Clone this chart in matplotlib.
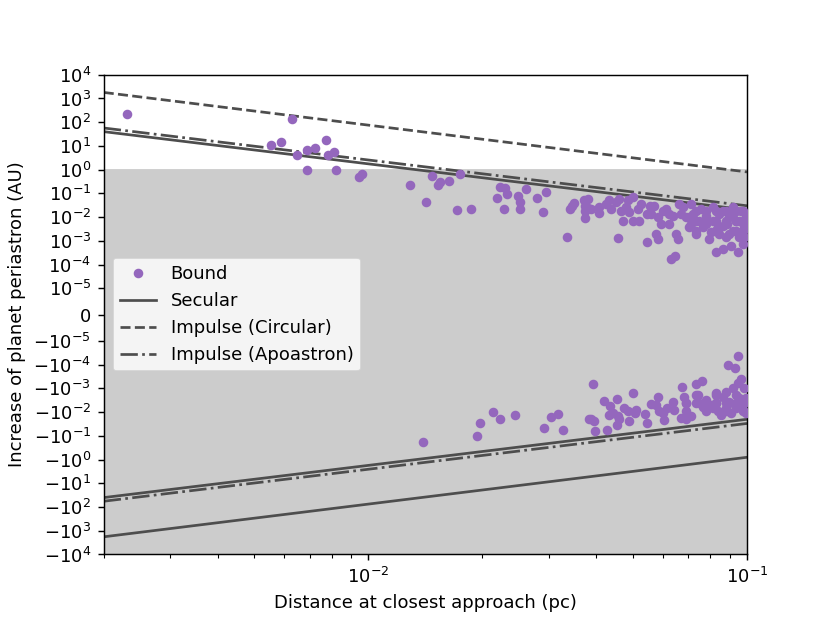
import numpy as np
import matplotlib
matplotlib.use('Agg')
import matplotlib.pyplot as plt
from matplotlib.ticker import NullLocator

# Bound encounters with a periastron increase (log10 of distance in pc, log10 of increase in AU)
pos_log_dist = [-2.637, -2.202, -2.257, -2.232, -2.188, -2.163, -2.142, -2.112, -2.107, -2.091, -2.161, -2.085, -2.026, -2.016,
                -1.891, -1.833, -1.817, -1.810, -1.788, -1.758, -1.847, -1.767, -1.729, -1.653, -1.640, -1.634, -1.659, -1.606,
                -1.600, -1.585, -1.641, -1.600, -1.555, -1.531, -1.540, -1.468, -1.462, -1.458, -1.431, -1.429, -1.429, -1.421,
                -1.429, -1.476,
                -1.421, -1.413, -1.391, -1.391, -1.364, -1.360, -1.346, -1.338, -1.320, -1.311,
                -1.289, -1.285, -1.327, -1.342, -1.302, -1.263, -1.263, -1.245, -1.236, -1.241,
                -1.236, -1.227, -1.223, -1.205, -1.196, -1.188, -1.183, -1.201, -1.190, -1.179,
                -1.170, -1.161, -1.152, -1.143, -1.126, -1.117, -1.108, -1.095, -1.091, -1.082,
                -1.073, -1.064, -1.064, -1.055, -1.047, -1.042, -1.038, -1.029, -1.024, -1.020,
                -1.011, -1.007, -1.003, -1.047, -1.073, -1.108, -1.135, -1.152, -1.205, -1.038, -1.011,
                -1.122, -1.090, -1.064, -1.037, -1.016, -1.003, -1.053, -1.079, -1.021, -1.100, -1.008, -1.148, -1.256, -1.313,
                -1.135, -1.108, -1.082, -1.055, -1.029, -1.010, -1.135, -1.108, -1.082, -1.055, -1.029, -1.010,
                -1.135, -1.082, -1.029, -1.373, -1.333, -1.280, -1.254, -1.214, -1.174, -1.148, -1.301]
pos_log_incr = [2.35, 2.14, 1.02, 1.16, 0.60, 0.83, 0.90, 1.25, 0.62, 0.73, 0.00, 0.00, -0.32, -0.18,
                -0.64, -0.26, -0.65, -0.52, -0.49, -0.19, -1.35, -1.70, -1.66, -0.75, -0.77, -1.04, -1.19, -1.13,
                -1.38, -0.83, -1.65, -1.67, -1.19, -0.93, -1.79, -1.65, -1.52, -1.41, -1.30, -1.52, -1.73, -1.63,
                -2.03, -2.83,
                -1.24, -1.66, -1.56, -1.84, -1.28, -1.66, -1.38, -1.24, -1.59, -1.80,
                -1.66, -2.15, -2.15, -2.88, -2.15, -3.06, -1.87, -1.52, -2.01, -2.71,
                -2.92, -2.29, -1.73, -2.29, -1.94, -2.71, -2.92, -3.76, -3.62, -1.45,
                -1.59, -2.01, -2.43, -1.87, -2.15, -2.43, -1.94, -2.64, -2.15, -3.48,
                -1.87, -2.36, -3.34, -2.85, -2.01, -3.20, -2.57, -2.15, -3.48, -2.85,
                -3.13, -2.36, -2.01, -2.71, -2.71, -2.29, -2.71, -2.01, -1.87, -1.87, -2.57,
                -1.66, -1.56, -1.73, -1.56, -1.73, -2.29, -2.29, -2.50, -2.16, -2.92, -2.83, -1.45, -1.52, -1.27,
                -1.74, -1.74, -1.74, -1.74, -1.74, -1.74, -2.16, -2.16, -2.16, -2.16, -2.16, -2.16,
                -2.58, -2.58, -2.58, -1.45, -1.74, -1.45, -1.87, -1.66, -1.87, -2.29, -1.16]

# Bound encounters with a periastron decrease (log10 of |increase|)
neg_log_dist = [-1.857, -1.713, -1.706, -1.671, -1.653, -1.612, -1.535, -1.517, -1.499, -1.487,
                -1.408, -1.417, -1.405, -1.401, -1.370, -1.377, -1.362, -1.344, -1.302, -1.364,
                -1.355, -1.342, -1.338, -1.344, -1.324, -1.315, -1.311, -1.295, -1.294, -1.270,
                -1.265, -1.254, -1.241, -1.235, -1.232, -1.223, -1.219, -1.210, -1.196, -1.192,
                -1.173, -1.166, -1.161, -1.174, -1.161, -1.148, -1.135, -1.119, -1.130, -1.126,
                -1.108, -1.095, -1.082, -1.077, -1.069, -1.064, -1.055, -1.047, -1.038, -1.033,
                -1.024, -1.020, -1.016, -1.011, -1.007, -1.007, -1.049, -1.033, -1.024, -1.117,
                -1.091, -1.055, -1.029, -1.413, -1.020, -1.002, -1.002, -1.042, -1.082,
                -1.161, -1.135, -1.108, -1.082, -1.055, -1.029, -1.010,
                -1.161, -1.108, -1.055, -1.010, -1.135, -1.082, -1.029]
neg_log_incr = [-0.74, -0.99, -1.55, -2.01, -1.73, -1.86, -1.35, -1.80, -1.94, -1.25,
                -3.17, -1.71, -1.62, -1.21, -1.23, -2.47, -2.26, -2.57, -2.79, -1.88,
                -1.95, -1.82, -1.70, -1.46, -2.16, -2.03, -1.63, -1.98, -2.09, -1.91,
                -1.53, -2.33, -2.30, -2.65, -2.03, -1.95, -1.67, -2.16, -2.44, -2.09,
                -3.07, -2.65, -2.37, -1.74, -1.70, -1.82, -3.18, -3.32, -2.72, -2.37,
                -2.51, -2.30, -2.79, -2.03, -1.88, -2.65, -2.86, -2.44, -3.00, -2.30,
                -3.21, -2.58, -3.38, -2.09, -3.00, -2.37, -3.98, -3.88, -4.37, -2.23,
                -2.16, -2.16, -2.16, -1.70, -2.37, -2.58, -1.95, -1.95, -2.37,
                -2.37, -2.37, -2.37, -2.37, -2.37, -2.37, -2.37,
                -2.04, -2.04, -2.04, -2.04, -2.71, -2.71, -2.71]

# Analytic estimates at the ends of the distance range (AU)
line_dist = [0.002, 0.1]
secular = [40.0, 0.02]
impulse_circ = [1800.0, 0.8]
impulse_apo = [57.0, 0.03]

fig, ax = plt.subplots(figsize=(830 / 130, 623 / 130), dpi=130)

ax.axhspan(-1e4, 1, color='0.8', zorder=0)

ax.plot(10 ** np.array(pos_log_dist), 10 ** np.array(pos_log_incr), 'o', color='tab:purple',
        ms=4.3, label='Bound', zorder=3)
ax.plot(10 ** np.array(neg_log_dist), -10 ** np.array(neg_log_incr), 'o', color='tab:purple',
        ms=4.3, zorder=3)

lc = '0.3'
ax.plot(line_dist, secular, '-', color=lc, label='Secular')
ax.plot(line_dist, impulse_circ, '--', color=lc, label='Impulse (Circular)')
ax.plot(line_dist, impulse_apo, '-.', color=lc, label='Impulse (Apoastron)')
ax.plot(line_dist, -np.array(secular), '-', color=lc)
ax.plot(line_dist, -np.array(impulse_circ), '-', color=lc)
ax.plot(line_dist, -np.array(impulse_apo), '-.', color=lc)

ax.set_xscale('log')
ax.set_yscale('symlog', linthresh=1e-5)
ax.set_xlim(2e-3, 0.1)
ax.set_ylim(-1e4, 1e4)
yt = [-10.0 ** k for k in range(4, -6, -1)] + [0] + [10.0 ** k for k in range(-5, 5)]
ax.set_yticks(yt)
ax.yaxis.set_minor_locator(NullLocator())

ax.set_xlabel('Distance at closest approach (pc)')
ax.set_ylabel('Increase of planet periastron (AU)')
ax.legend(loc='center left')

plt.savefig('out.png', dpi=130)
